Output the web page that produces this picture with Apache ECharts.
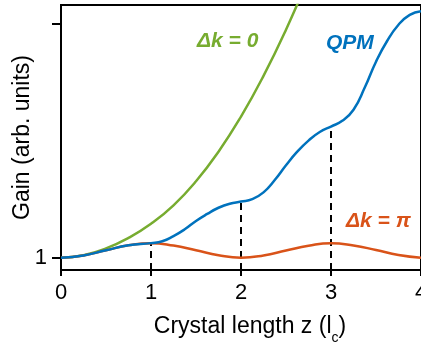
<!DOCTYPE html>
<html>
<head>
<meta charset="utf-8">
<script src="https://cdn.jsdelivr.net/npm/echarts@6/dist/echarts.min.js"></script>
<style>
html,body{margin:0;padding:0;background:#fff;}
#chart{width:421px;height:344px;}
</style>
</head>
<body>
<div id="chart"></div>
<script>
// Data
var xTicks = [0, 1, 2, 3, 4];
var yTickValues = [1, 20];
var yLabelValues = [1];

var greenZ = [0, 0.25, 0.5, 0.75, 1, 1.25, 1.5, 1.75, 2, 2.25, 2.5, 2.75];
var greenV = [1, 1.2, 1.75, 2.6, 3.75, 5.25, 7.2, 9.6, 12.45, 15.75, 19.5, 23.7];

var blueZ = [0, 0.25, 0.5, 0.75, 1, 1.125, 1.25, 1.375, 1.5, 1.625, 1.75, 1.875, 2, 2.125, 2.25, 2.375, 2.5, 2.625, 2.75, 2.875, 3, 3.125, 3.25, 3.375, 3.5, 3.625, 3.75, 3.875, 4];
var blueV = [1, 1.18, 1.6, 2.0, 2.18, 2.33, 2.75, 3.3, 3.98, 4.55, 5.05, 5.38, 5.55, 5.75, 6.3, 7.3, 8.5, 9.6, 10.5, 11.2, 11.64, 12.1, 13.0, 14.8, 16.9, 18.6, 19.9, 20.7, 21.0];

var orangeZ = [0, 0.25, 0.5, 0.75, 1, 1.25, 1.5, 1.75, 2, 2.25, 2.5, 2.75, 3, 3.25, 3.5, 3.75, 4];
var orangeV = [1, 1.18, 1.6, 2.0, 2.18, 1.98, 1.6, 1.2, 1.0, 1.18, 1.58, 1.97, 2.18, 1.99, 1.62, 1.22, 1.0];

var dashZ = [1, 2, 3];

var labelGreen = 'Δk = 0';
var labelBlue = 'QPM';
var labelOrange = 'Δk = π';

function pairs(xs, ys) { return xs.map(function (x, i) { return [x, ys[i]]; }); }
function blueAt(z) { return blueV[blueZ.indexOf(z)]; }

var FONT = '"Liberation Sans", Arial, Helvetica, sans-serif';
var GREEN = '#77AC30', BLUE = '#0072BD', ORANGE = '#D95319';

var series = [];
dashZ.forEach(function (z) {
  series.push({
    type: 'line', data: [[z, 0], [z, blueAt(z)]], symbol: 'none', silent: true,
    lineStyle: { color: '#000', width: 2, type: [7, 5] }, z: 1
  });
});
var curveBase = { type: 'line', symbol: 'none', smooth: 0.5 };
series.push(Object.assign({}, curveBase, { data: pairs(greenZ, greenV), lineStyle: { color: GREEN, width: 2.5 }, z: 2 }));
series.push(Object.assign({}, curveBase, { data: pairs(orangeZ, orangeV), lineStyle: { color: ORANGE, width: 2.5 }, z: 3 }));
series.push(Object.assign({}, curveBase, { data: pairs(blueZ, blueV), lineStyle: { color: BLUE, width: 2.5 }, z: 4 }));

var chart = echarts.init(document.getElementById('chart'), null, { renderer: 'canvas' });
chart.setOption({
  animation: false,
  backgroundColor: '#fff',
  grid: { left: 61, right: 0, top: 5, bottom: 74, containLabel: false, outerBoundsMode: 'none',
          show: true, borderColor: '#000', borderWidth: 2 },
  xAxis: {
    type: 'value', min: xTicks[0], max: xTicks[xTicks.length - 1], interval: 1,
    axisLine: { lineStyle: { color: '#000', width: 2 } },
    axisTick: { length: 6, lineStyle: { color: '#000', width: 2 } },
    axisLabel: { fontSize: 22, color: '#000', margin: 12, fontFamily: FONT, showMaxLabel: true },
    splitLine: { show: false },
    name: '{a|Crystal length z (l}{s|c}{a|)}',
    nameLocation: 'middle', nameGap: 43, nameMoveOverlap: false,
    nameTextStyle: {
      padding: [0, 0, 0, 18],
      rich: {
        a: { fontSize: 23, color: '#000', fontFamily: FONT, lineHeight: 28 },
        s: { fontSize: 14, color: '#000', fontFamily: FONT, lineHeight: 28, verticalAlign: 'bottom', padding: [0, 0, -4, 0] }
      }
    }
  },
  yAxis: {
    type: 'value', min: 0, max: 21.5,
    axisLine: { lineStyle: { color: '#000', width: 2 } },
    axisTick: { length: 9, lineStyle: { color: '#000', width: 2 }, customValues: yTickValues },
    axisLabel: { fontSize: 22, color: '#000', margin: 14, fontFamily: FONT, customValues: yLabelValues },
    splitLine: { show: false },
    name: 'Gain (arb. units)', nameLocation: 'middle', nameGap: 27, nameMoveOverlap: false,
    nameTextStyle: { fontSize: 23, color: '#000', fontFamily: FONT }
  },
  graphic: [
    { type: 'text', left: 197, top: 31, style: { text: labelGreen, fill: GREEN, font: 'italic bold 21px ' + FONT } },
    { type: 'text', left: 326, top: 33, style: { text: labelBlue, fill: BLUE, font: 'italic bold 21px ' + FONT } },
    { type: 'text', left: 346, top: 211, style: { text: labelOrange, fill: ORANGE, font: 'italic bold 21px ' + FONT } }
  ],
  series: series
});
</script>
</body>
</html>
